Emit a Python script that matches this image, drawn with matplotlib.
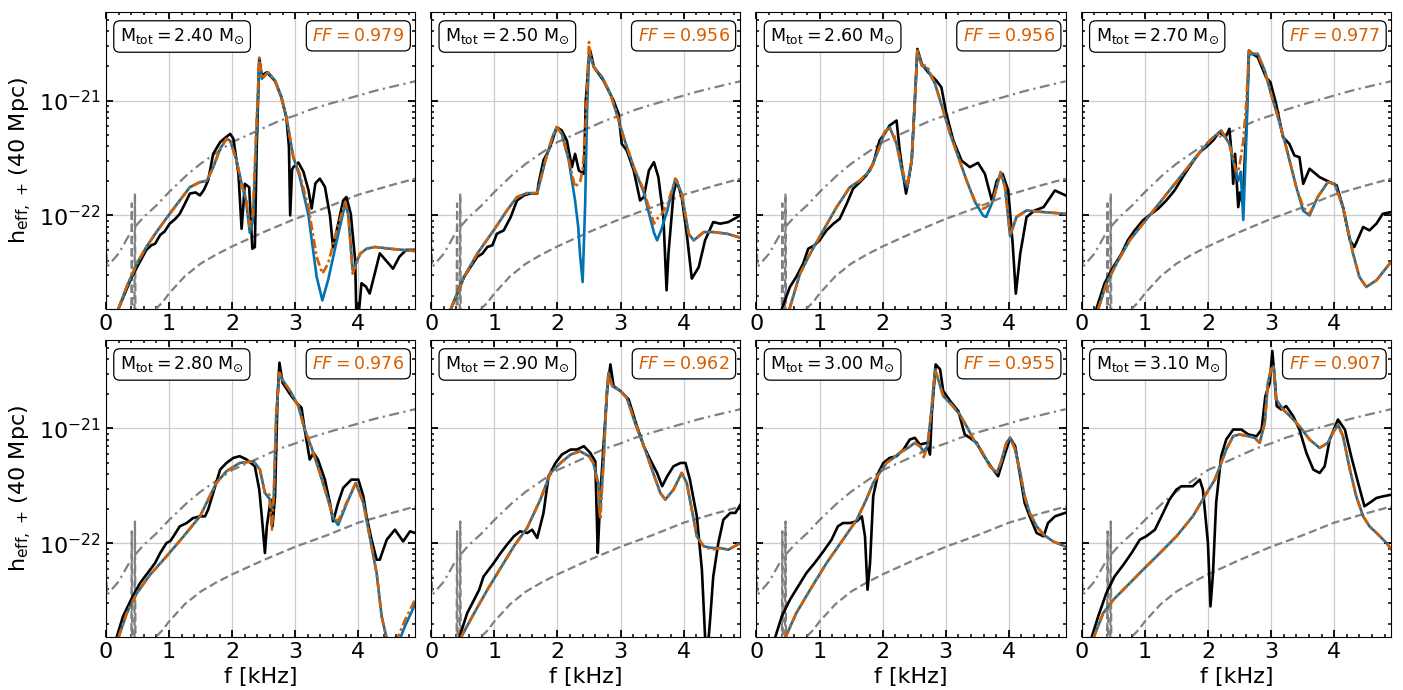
import numpy as np
import matplotlib.pyplot as plt
from matplotlib.ticker import MultipleLocator, FixedLocator, NullFormatter

# log10 of the strain values

# detector curves (same in every panel)
f_dashdot = [0.0, 0.015, 0.2, 0.41, 0.6, 0.8, 1.0, 1.28, 1.5, 1.75, 2.0, 2.28, 2.5,
             2.76, 3.0, 3.23, 3.5, 3.76, 4.0, 4.24, 4.5, 4.9]
lg_dashdot = [-22.15, -22.45, -22.333, -22.13, -22.014, -21.913, -21.797, -21.65, -21.55,
              -21.455, -21.362, -21.293, -21.238, -21.174, -21.13, -21.081, -21.035,
              -20.994, -20.957, -20.919, -20.884, -20.832]
f_dashed = [0.3, 0.40, 0.41, 0.42, 0.45, 0.46, 0.47, 0.6, 0.78, 0.9, 1.0, 1.25, 1.5,
            1.75, 2.0, 2.5, 3.0, 3.5, 4.0, 4.5, 4.9]
lg_dashed = [-23.3, -23.2, -21.895, -23.2, -23.1, -21.81, -23.1, -23.05, -22.82, -22.754,
             -22.68, -22.53, -22.42, -22.34, -22.27, -22.145, -22.03, -21.93, -21.82,
             -21.74, -21.68]

masses = [2.40, 2.50, 2.60, 2.70, 2.80, 2.90, 3.00, 3.10]
ff = [0.979, 0.956, 0.956, 0.977, 0.976, 0.962, 0.955, 0.907]

# ---- M = 2.40
f_nr_240 = [0.195, 0.41, 0.64, 0.72, 0.78, 0.86, 0.93, 1.01, 1.10, 1.17, 1.25, 1.33, 1.42,
            1.49, 1.55, 1.62, 1.70, 1.81, 1.90, 1.97, 2.02, 2.10, 2.15, 2.18, 2.20, 2.27,
            2.32, 2.36, 2.39, 2.43, 2.47, 2.55, 2.68, 2.78, 2.86, 2.90, 2.92, 2.95, 2.97,
            3.05, 3.13, 3.21, 3.26, 3.32, 3.39, 3.47, 3.55, 3.60, 3.67, 3.76, 3.81, 3.88,
            3.95, 3.97, 4.00, 4.05, 4.12, 4.18, 4.26, 4.34, 4.45, 4.55, 4.65, 4.76, 4.90]
lg_nr_240 = [-22.817, -22.536, -22.30, -22.26, -22.246, -22.17, -22.14, -22.072, -22.03,
             -21.986, -21.90, -21.81, -21.80, -21.826, -21.78, -21.696, -21.464, -21.362,
             -21.32, -21.29, -21.333, -21.638, -22.116, -21.90, -21.725, -21.754, -22.29,
             -22.275, -21.40, -20.629, -20.783, -20.754, -20.83, -20.97, -21.15, -21.40,
             -22.0, -21.60, -21.58, -21.54, -21.62, -21.78, -21.94, -21.72, -21.68, -21.75,
             -22.0, -22.28, -22.10, -21.87, -21.84, -21.986, -22.39, -22.9, -22.9, -22.59,
             -22.62, -22.68, -22.507, -22.33, -22.40, -22.464, -22.36, -22.30, -22.30]
f_fit_240 = [0.195, 0.33, 0.49, 0.64, 0.80, 1.01, 1.17, 1.33, 1.49, 1.60, 1.70, 1.81, 1.91,
             1.97, 2.07, 2.15, 2.22, 2.28, 2.33, 2.38, 2.43, 2.47, 2.57, 2.68, 2.78, 2.86,
             2.97, 3.07, 3.21, 3.34, 3.43, 3.52, 3.66, 3.79, 3.84, 3.91, 4.03, 4.13, 4.26,
             4.50, 4.90]
lg_blue_240 = [-22.817, -22.62, -22.42, -22.275, -22.145, -21.986, -21.87, -21.754, -21.71,
               -21.70, -21.58, -21.42, -21.333, -21.35, -21.52, -21.725, -21.87, -22.15,
               -22.05, -21.35, -20.66, -20.81, -20.754, -20.826, -20.97, -21.145, -21.493,
               -21.66, -22.0, -22.536, -22.74, -22.565, -22.217, -21.90, -21.99, -22.48,
               -22.333, -22.29, -22.275, -22.29, -22.31]
lg_orng_240 = [-22.817, -22.62, -22.42, -22.275, -22.145, -21.986, -21.87, -21.754, -21.71,
               -21.696, -21.58, -21.42, -21.333, -21.35, -21.52, -21.725, -21.855, -22.10,
               -21.986, -21.29, -20.629, -20.81, -20.754, -20.826, -20.97, -21.145, -21.493,
               -21.638, -21.928, -22.362, -22.507, -22.42, -22.13, -21.884, -21.986, -22.507,
               -22.333, -22.29, -22.275, -22.29, -22.31]

# ---- M = 2.50
f_nr_250 = [0.31, 0.52, 0.73, 0.81, 0.89, 0.97, 1.04, 1.15, 1.26, 1.36, 1.47, 1.57, 1.68,
            1.70, 1.78, 1.86, 1.92, 1.99, 2.07, 2.15, 2.23, 2.28, 2.34, 2.42, 2.45, 2.50,
            2.52, 2.58, 2.73, 2.89, 2.97, 3.02, 3.10, 3.21, 3.31, 3.37, 3.45, 3.53, 3.60,
            3.68, 3.73, 3.76, 3.84, 3.89, 3.97, 4.05, 4.13, 4.24, 4.34, 4.47, 4.58, 4.71,
            4.90]
lg_nr_250 = [-22.817, -22.536, -22.36, -22.333, -22.275, -22.26, -22.16, -22.13, -22.014,
             -21.87, -21.826, -21.81, -21.81, -21.725, -21.52, -21.435, -21.348, -21.232,
             -21.261, -21.348, -21.58, -21.464, -21.609, -21.638, -21.0, -20.623, -20.565,
             -20.71, -20.826, -21.0, -21.116, -21.377, -21.435, -21.609, -21.87, -21.84,
             -21.609, -21.536, -21.667, -22.014, -22.652, -22.333, -21.81, -21.696, -21.84,
             -22.16, -22.55, -22.45, -22.217, -22.058, -22.072, -22.058, -22.0]
f_fit_250 = [0.31, 0.52, 0.73, 0.99, 1.20, 1.36, 1.52, 1.68, 1.81, 1.92, 1.99, 2.07, 2.18,
             2.28, 2.33, 2.36, 2.40, 2.44, 2.47, 2.50, 2.52, 2.58, 2.71, 2.84, 2.94, 3.05,
             3.21, 3.37, 3.45, 3.53, 3.58, 3.65, 3.74, 3.87, 3.97, 4.08, 4.16, 4.32, 4.47,
             4.69, 4.90]
lg_blue_250 = [-22.817, -22.536, -22.333, -22.13, -21.957, -21.84, -21.806, -21.806, -21.52,
               -21.319, -21.232, -21.29, -21.52, -21.87, -22.10, -22.35, -22.58, -21.90,
               -21.10, -20.62, -20.62, -20.71, -20.797, -20.942, -21.116, -21.319, -21.58,
               -21.80, -21.98, -22.15, -22.217, -22.12, -21.96, -21.68, -21.81, -22.16,
               -22.217, -22.145, -22.145, -22.16, -22.194]
lg_orng_250 = [-22.817, -22.536, -22.333, -22.13, -21.957, -21.84, -21.806, -21.806, -21.52,
               -21.319, -21.232, -21.29, -21.52, -21.754, -21.72, -21.71, -21.60, -21.30,
               -20.90, -20.49, -20.60, -20.71, -20.797, -20.942, -21.116, -21.319, -21.58,
               -21.783, -21.93, -22.072, -22.03, -21.99, -21.91, -21.68, -21.81, -22.16,
               -22.217, -22.145, -22.145, -22.16, -22.194]

# ---- M = 2.60
f_nr_260 = [0.40, 0.53, 0.63, 0.74, 0.82, 0.92, 1.00, 1.11, 1.22, 1.32, 1.43, 1.53, 1.64,
            1.74, 1.85, 1.95, 2.03, 2.11, 2.22, 2.27, 2.33, 2.37, 2.40, 2.46, 2.51, 2.55,
            2.62, 2.72, 2.85, 2.93, 3.01, 3.12, 3.25, 3.38, 3.51, 3.62, 3.73, 3.81, 3.90,
            3.99, 4.06, 4.11, 4.18, 4.28, 4.41, 4.55, 4.73, 4.90]
lg_nr_260 = [-22.817, -22.623, -22.536, -22.42, -22.29, -22.26, -22.217, -22.13, -22.072,
             -22.029, -21.899, -21.768, -21.71, -21.652, -21.55, -21.348, -21.29, -21.217,
             -21.174, -21.435, -21.667, -21.81, -21.725, -21.52, -21.0, -20.551, -20.681,
             -20.754, -20.826, -20.884, -21.116, -21.348, -21.522, -21.58, -21.542, -21.638,
             -21.87, -21.696, -21.638, -21.783, -22.246, -22.681, -22.333, -22.014, -21.957,
             -21.928, -21.783, -21.826]
f_fit_260 = [0.52, 0.69, 0.85, 1.06, 1.27, 1.48, 1.64, 1.80, 1.93, 2.03, 2.11, 2.22, 2.33,
             2.39, 2.46, 2.51, 2.55, 2.62, 2.70, 2.83, 2.96, 3.07, 3.20, 3.33, 3.46, 3.59,
             3.64, 3.75, 3.87, 3.94, 4.02, 4.12, 4.28, 4.55, 4.90]
lg_blue_260 = [-22.82, -22.507, -22.333, -22.13, -21.928, -21.754, -21.696, -21.609, -21.435,
               -21.275, -21.232, -21.377, -21.68, -21.754, -21.52, -21.0, -20.565, -20.696,
               -20.72, -20.855, -21.087, -21.29, -21.493, -21.696, -21.88, -22.0, -22.014,
               -21.87, -21.623, -21.754, -22.18, -22.014, -21.957, -21.971, -21.986]
lg_orng_260 = [-22.82, -22.507, -22.333, -22.13, -21.928, -21.754, -21.696, -21.609, -21.435,
               -21.275, -21.232, -21.377, -21.638, -21.739, -21.52, -21.0, -20.565, -20.696,
               -20.696, -20.855, -21.087, -21.29, -21.493, -21.696, -21.87, -21.942, -21.93,
               -21.87, -21.623, -21.754, -22.174, -22.014, -21.957, -21.971, -21.986]

# ---- M = 2.70
f_nr_270 = [0.23, 0.36, 0.50, 0.63, 0.73, 0.84, 0.97, 1.10, 1.21, 1.34, 1.47, 1.60, 1.74,
            1.87, 1.97, 2.08, 2.18, 2.28, 2.34, 2.38, 2.40, 2.43, 2.48, 2.51, 2.55, 2.61,
            2.65, 2.71, 2.79, 2.92, 2.99, 3.08, 3.19, 3.29, 3.37, 3.45, 3.51, 3.61, 3.77,
            3.93, 4.04, 4.14, 4.25, 4.32, 4.46, 4.56, 4.67, 4.77, 4.90]
lg_nr_270 = [-22.817, -22.594, -22.449, -22.333, -22.217, -22.13, -22.043, -21.986, -21.942,
             -21.87, -21.783, -21.667, -21.55, -21.449, -21.406, -21.348, -21.275, -21.319,
             -21.246, -21.493, -21.725, -21.464, -21.928, -21.80, -21.90, -21.203, -20.565,
             -20.594, -20.623, -20.797, -20.84, -21.029, -21.319, -21.377, -21.478, -21.493,
             -21.725, -21.594, -21.667, -21.71, -21.739, -21.928, -22.217, -22.275, -22.101,
             -22.13, -22.072, -21.986, -21.971]
f_fit_270 = [0.26, 0.39, 0.55, 0.76, 0.97, 1.18, 1.39, 1.60, 1.81, 2.03, 2.21, 2.34, 2.45,
             2.48, 2.52, 2.56, 2.61, 2.65, 2.71, 2.79, 2.90, 3.00, 3.11, 3.24, 3.40, 3.51,
             3.61, 3.74, 3.90, 4.01, 4.14, 4.30, 4.40, 4.51, 4.67, 4.90]
lg_blue_270 = [-22.817, -22.594, -22.42, -22.217, -22.072, -21.928, -21.783, -21.638, -21.493,
               -21.348, -21.261, -21.377, -21.65, -21.70, -21.62, -22.04, -21.30, -20.60,
               -20.594, -20.594, -20.739, -20.942, -21.145, -21.406, -21.754, -21.96, -22.0,
               -21.84, -21.71, -21.725, -21.928, -22.333, -22.536, -22.623, -22.565, -22.406]
lg_orng_270 = [-22.817, -22.594, -22.42, -22.217, -22.072, -21.928, -21.783, -21.638, -21.493,
               -21.348, -21.261, -21.377, -21.62, -21.62, -21.50, -21.35, -21.0, -20.565,
               -20.594, -20.594, -20.739, -20.942, -21.145, -21.406, -21.754, -21.928, -21.986,
               -21.84, -21.71, -21.725, -21.928, -22.333, -22.536, -22.623, -22.565, -22.406]

# ---- M = 2.80
f_nr_280 = [0.17, 0.27, 0.41, 0.54, 0.70, 0.78, 0.86, 0.96, 1.02, 1.07, 1.17, 1.28, 1.38,
            1.49, 1.57, 1.62, 1.70, 1.81, 1.91, 2.02, 2.12, 2.23, 2.36, 2.43, 2.47, 2.52,
            2.55, 2.61, 2.64, 2.68, 2.72, 2.75, 2.80, 2.92, 3.02, 3.10, 3.15, 3.23, 3.29,
            3.36, 3.47, 3.55, 3.60, 3.68, 3.76, 3.89, 4.00, 4.08, 4.13, 4.21, 4.29, 4.34,
            4.45, 4.58, 4.71, 4.82, 4.90]
lg_nr_280 = [-22.817, -22.637, -22.477, -22.346, -22.23, -22.17, -22.084, -21.997, -21.98,
             -21.939, -21.852, -21.823, -21.78, -21.765, -21.765, -21.706, -21.561, -21.358,
             -21.30, -21.256, -21.241, -21.27, -21.329, -21.532, -21.765, -22.084, -21.852,
             -21.619, -21.852, -21.59, -20.718, -20.427, -20.602, -20.703, -20.776, -20.82,
             -21.009, -21.27, -21.212, -21.27, -21.445, -21.648, -21.808, -21.648, -21.517,
             -21.445, -21.445, -21.59, -21.765, -21.968, -22.142, -22.142, -21.968, -21.881,
             -21.983, -21.895, -21.91]
f_fit_280 = [0.20, 0.33, 0.49, 0.70, 0.96, 1.23, 1.49, 1.75, 1.91, 2.12, 2.34, 2.44, 2.52,
             2.59, 2.63, 2.66, 2.70, 2.75, 2.81, 2.92, 3.05, 3.15, 3.26, 3.39, 3.52, 3.60,
             3.68, 3.81, 3.96, 4.08, 4.18, 4.29, 4.37, 4.45, 4.53, 4.61, 4.74, 4.90]
lg_blue_280 = [-22.817, -22.608, -22.433, -22.273, -22.113, -21.939, -21.765, -21.474, -21.372,
               -21.30, -21.285, -21.358, -21.561, -21.61, -21.70, -21.60, -20.863, -20.515,
               -20.587, -20.674, -20.805, -21.009, -21.169, -21.387, -21.619, -21.78, -21.84,
               -21.66, -21.474, -21.648, -21.939, -22.259, -22.637, -22.83, -23.0, -22.90,
               -22.72, -22.53]
lg_orng_280 = [-22.817, -22.608, -22.433, -22.273, -22.113, -21.939, -21.765, -21.474, -21.372,
               -21.30, -21.285, -21.358, -21.561, -21.576, -21.881, -21.59, -20.863, -20.515,
               -20.587, -20.674, -20.805, -21.009, -21.169, -21.387, -21.619, -21.765, -21.808,
               -21.648, -21.474, -21.648, -21.939, -22.259, -22.637, -22.83, -22.98, -22.84,
               -22.666, -22.49]

# ---- M = 2.90
f_nr_290 = [0.44, 0.57, 0.68, 0.76, 0.83, 0.91, 0.99, 1.10, 1.20, 1.31, 1.41, 1.52, 1.60,
            1.68, 1.78, 1.86, 1.97, 2.07, 2.21, 2.31, 2.42, 2.52, 2.60, 2.63, 2.64, 2.68,
            2.73, 2.79, 2.84, 2.89, 3.00, 3.13, 3.26, 3.37, 3.47, 3.58, 3.66, 3.74, 3.84,
            3.95, 4.03, 4.10, 4.21, 4.29, 4.34, 4.37, 4.42, 4.47, 4.55, 4.63, 4.74, 4.82,
            4.90]
lg_nr_290 = [-22.83, -22.608, -22.491, -22.404, -22.288, -22.23, -22.172, -22.084, -22.012,
             -21.939, -21.895, -21.91, -21.881, -21.953, -21.735, -21.416, -21.30, -21.227,
             -21.183, -21.183, -21.154, -21.212, -21.285, -21.881, -22.084, -21.59, -21.154,
             -20.66, -20.442, -20.631, -20.674, -20.747, -20.98, -21.154, -21.27, -21.387,
             -21.503, -21.416, -21.329, -21.30, -21.30, -21.445, -21.765, -22.23, -22.81,
             -23.0, -22.666, -22.288, -21.997, -21.794, -21.735, -21.735, -21.663]
f_fit_290 = [0.46, 0.68, 0.89, 1.10, 1.31, 1.52, 1.73, 1.89, 2.05, 2.21, 2.36, 2.50, 2.57,
             2.65, 2.68, 2.73, 2.78, 2.81, 2.87, 3.00, 3.10, 3.23, 3.37, 3.50, 3.63, 3.71,
             3.84, 3.97, 4.05, 4.13, 4.21, 4.32, 4.45, 4.58, 4.71, 4.90]
lg_blue_290 = [-22.83, -22.608, -22.404, -22.215, -22.026, -21.866, -21.619, -21.387, -21.30,
               -21.227, -21.198, -21.241, -21.30, -21.48, -21.70, -21.30, -20.718, -20.515,
               -20.631, -20.674, -20.733, -20.951, -21.154, -21.358, -21.561, -21.619, -21.532,
               -21.387, -21.474, -21.706, -21.939, -22.026, -22.04, -22.041, -22.055, -21.997]
lg_orng_290 = [-22.83, -22.608, -22.404, -22.215, -22.026, -21.866, -21.619, -21.387, -21.30,
               -21.227, -21.198, -21.241, -21.30, -21.503, -21.794, -21.30, -20.718, -20.515,
               -20.631, -20.674, -20.733, -20.951, -21.154, -21.358, -21.561, -21.619, -21.532,
               -21.387, -21.474, -21.706, -21.939, -22.026, -22.055, -22.041, -22.055, -21.997]

# ---- M = 3.00
f_nr_300 = [0.29, 0.40, 0.53, 0.66, 0.79, 0.92, 1.06, 1.19, 1.29, 1.37, 1.48, 1.59, 1.67,
            1.72, 1.76, 1.80, 1.85, 1.93, 2.01, 2.11, 2.22, 2.33, 2.43, 2.51, 2.59, 2.70,
            2.75, 2.78, 2.84, 2.91, 2.96, 3.07, 3.20, 3.30, 3.38, 3.49, 3.59, 3.73, 3.83,
            3.91, 4.02, 4.10, 4.18, 4.25, 4.33, 4.44, 4.55, 4.62, 4.73, 4.89]
lg_nr_300 = [-22.83, -22.637, -22.491, -22.375, -22.259, -22.172, -22.07, -21.968, -21.852,
             -21.823, -21.823, -21.808, -21.765, -21.939, -22.404, -22.172, -21.59, -21.387,
             -21.30, -21.256, -21.241, -21.183, -21.096, -21.081, -21.14, -21.125, -21.227,
             -20.863, -20.442, -20.485, -20.674, -20.761, -20.849, -21.052, -21.081, -21.125,
             -21.227, -21.343, -21.416, -21.27, -21.081, -21.154, -21.416, -21.648, -21.765,
             -21.91, -21.939, -21.823, -21.765, -21.735]
f_fit_300 = [0.45, 0.63, 0.85, 1.11, 1.37, 1.59, 1.74, 1.85, 1.95, 2.06, 2.17, 2.27, 2.40,
             2.51, 2.59, 2.65, 2.71, 2.77, 2.83, 2.88, 2.96, 3.09, 3.22, 3.33, 3.44, 3.57,
             3.70, 3.81, 3.88, 3.96, 4.02, 4.10, 4.18, 4.25, 4.33, 4.44, 4.55, 4.70, 4.89]
lg_blue_300 = [-22.83, -22.608, -22.404, -22.172, -21.968, -21.794, -21.619, -21.474, -21.387,
               -21.30, -21.256, -21.212, -21.169, -21.125, -21.154, -21.20, -21.154, -20.863,
               -20.485, -20.573, -20.718, -20.791, -20.878, -20.98, -21.096, -21.198, -21.329,
               -21.387, -21.285, -21.125, -21.081, -21.183, -21.387, -21.59, -21.735, -21.852,
               -21.924, -21.983, -22.026]
lg_orng_300 = [-22.83, -22.608, -22.404, -22.172, -21.968, -21.794, -21.619, -21.474, -21.387,
               -21.30, -21.256, -21.212, -21.169, -21.125, -21.154, -21.25, -21.154, -20.863,
               -20.485, -20.573, -20.718, -20.791, -20.878, -20.98, -21.096, -21.198, -21.329,
               -21.387, -21.285, -21.125, -21.081, -21.183, -21.387, -21.59, -21.735, -21.852,
               -21.924, -21.983, -22.026]

# ---- M = 3.10
f_nr_310 = [0.15, 0.26, 0.39, 0.52, 0.66, 0.79, 0.92, 1.02, 1.16, 1.29, 1.39, 1.50, 1.58,
            1.76, 1.87, 1.92, 2.00, 2.04, 2.08, 2.13, 2.21, 2.29, 2.40, 2.53, 2.64, 2.77,
            2.85, 2.91, 2.98, 3.02, 3.06, 3.09, 3.16, 3.24, 3.35, 3.45, 3.56, 3.67, 3.77,
            3.85, 3.93, 4.06, 4.17, 4.27, 4.38, 4.48, 4.56, 4.67, 4.78, 4.91]
lg_nr_310 = [-22.83, -22.637, -22.433, -22.288, -22.186, -22.084, -21.968, -21.939, -21.881,
             -21.735, -21.619, -21.532, -21.503, -21.503, -21.445, -21.532, -21.997, -22.549,
             -22.259, -21.648, -21.241, -21.096, -21.009, -21.009, -21.052, -21.067, -21.009,
             -20.718, -20.602, -20.326, -20.573, -20.805, -20.834, -20.805, -20.892, -21.009,
             -21.212, -21.358, -21.387, -21.329, -21.096, -20.922, -21.009, -21.241, -21.474,
             -21.677, -21.648, -21.605, -21.59, -21.576]
f_fit_310 = [0.18, 0.34, 0.50, 0.71, 0.97, 1.24, 1.50, 1.76, 1.98, 2.11, 2.21, 2.29, 2.40,
             2.50, 2.64, 2.74, 2.82, 2.90, 2.95, 3.00, 3.04, 3.08, 3.19, 3.30, 3.45, 3.61,
             3.77, 3.90, 3.98, 4.06, 4.14, 4.25, 4.35, 4.46, 4.56, 4.70, 4.83, 4.91]
lg_blue_310 = [-22.83, -22.608, -22.491, -22.375, -22.23, -22.084, -21.939, -21.765, -21.561,
               -21.445, -21.30, -21.183, -21.067, -21.052, -21.067, -21.081, -21.125, -20.951,
               -20.602, -20.485, -20.457, -20.747, -20.834, -20.892, -20.98, -21.096, -21.169,
               -21.125, -21.038, -20.965, -21.067, -21.358, -21.59, -21.765, -21.852, -21.924,
               -21.997, -22.055]
lg_orng_310 = lg_blue_310

f_nr = [f_nr_240, f_nr_250, f_nr_260, f_nr_270, f_nr_280, f_nr_290, f_nr_300, f_nr_310]
lg_nr = [lg_nr_240, lg_nr_250, lg_nr_260, lg_nr_270, lg_nr_280, lg_nr_290, lg_nr_300, lg_nr_310]
f_fit = [f_fit_240, f_fit_250, f_fit_260, f_fit_270, f_fit_280, f_fit_290, f_fit_300, f_fit_310]
lg_blue = [lg_blue_240, lg_blue_250, lg_blue_260, lg_blue_270, lg_blue_280, lg_blue_290,
           lg_blue_300, lg_blue_310]
lg_orng = [lg_orng_240, lg_orng_250, lg_orng_260, lg_orng_270, lg_orng_280, lg_orng_290,
           lg_orng_300, lg_orng_310]

blue = '#0173B2'
orange = '#D55E00'

ymin, ymax = 1.53e-23, 5.9e-21
minor_y = [m * 10.0 ** e for e in (-23, -22, -21) for m in range(2, 10)]
minor_y = [v for v in minor_y if ymin <= v <= ymax]

fig, axes = plt.subplots(2, 4, figsize=(14.03, 6.9), sharey=True)
fig.subplots_adjust(left=0.0755, right=0.9914, bottom=0.0768, top=0.9826,
                    wspace=0.052, hspace=0.104)

for i, ax in enumerate(axes.flat):
    ax.plot(f_dashdot, 10 ** np.array(lg_dashdot), color='gray', lw=1.6,
            ls=(0, (4.5, 2, 1, 2)))
    ax.plot(f_dashed, 10 ** np.array(lg_dashed), color='gray', lw=1.6, ls=(0, (3.7, 1.8)))
    ax.plot(f_nr[i], 10 ** np.array(lg_nr[i]), color='k', lw=1.9)
    ax.plot(f_fit[i], 10 ** np.array(lg_blue[i]), color=blue, lw=1.9)
    ax.plot(f_fit[i], 10 ** np.array(lg_orng[i]), color=orange, lw=1.9,
            ls=(0, (3.5, 1.2, 1, 1.2)))

    ax.set_yscale('log')
    ax.set_xlim(0, 4.9)
    ax.set_ylim(ymin, ymax)
    ax.xaxis.set_major_locator(MultipleLocator(1))
    ax.xaxis.set_minor_locator(MultipleLocator(0.2))
    ax.yaxis.set_major_locator(FixedLocator([1e-22, 1e-21]))
    ax.yaxis.set_minor_locator(FixedLocator(minor_y))
    ax.yaxis.set_minor_formatter(NullFormatter())
    ax.grid(True, which='major', color='#cccccc', lw=0.9)
    ax.tick_params(which='both', direction='in', top=True, right=True, labelsize=16)
    ax.tick_params(which='major', length=5, width=1.3)
    ax.tick_params(which='minor', length=2.5, width=1.1)

    ax.text(0.045, 0.95, r'$\mathrm{M_{tot} = %.2f\ M_{\odot}}$' % masses[i],
            transform=ax.transAxes, ha='left', va='top', fontsize=12.5,
            bbox=dict(boxstyle='round,pad=0.35', fc='white', ec='black', lw=0.9))
    ax.text(0.965, 0.95, r'$FF = %.3f$' % ff[i], color=orange,
            transform=ax.transAxes, ha='right', va='top', fontsize=12.5,
            bbox=dict(boxstyle='round,pad=0.35', fc='white', ec='black', lw=0.9))

    if i % 4 == 0:
        ax.set_ylabel(r'$\mathrm{h_{eff,\,+}\,(40\ Mpc)}$', fontsize=16)
    if i >= 4:
        ax.set_xlabel('f [kHz]', fontsize=16)

fig.savefig('out.png', dpi=100)
